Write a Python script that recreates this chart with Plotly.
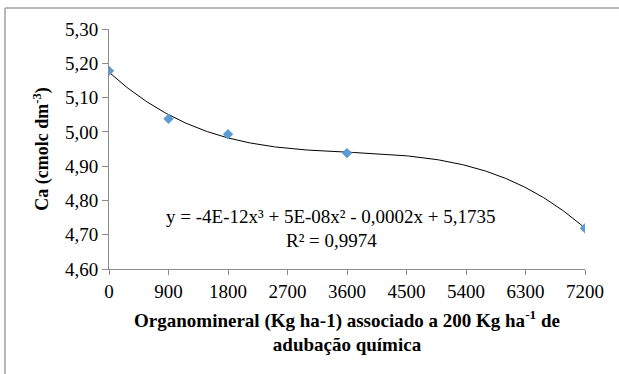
import numpy as np
import plotly.graph_objects as go

doses = [0, 900, 1800, 3600, 7200]
ca_values = [5.178, 5.038, 4.993, 4.938, 4.719]
x_ticks = [0, 900, 1800, 2700, 3600, 4500, 5400, 6300, 7200]
y_ticks = [4.60, 4.70, 4.80, 4.90, 5.00, 5.10, 5.20, 5.30]
equation_text = "y = -4E-12x³ + 5E-08x² - 0,0002x + 5,1735"
r2_text = "R² = 0,9974"

# cubic trendline fitted to the data
coef = np.polyfit(doses, ca_values, 3)
xf = np.linspace(0, 7200, 300)
yf = np.polyval(coef, xf)

W, H = 619, 374
L, R, T, B = 109, 34, 29, 105
pw = W - L - R
ph = H - T - B

font_family = "Liberation Serif"
axis_col = "#8c8c8c"

fig = go.Figure()
fig.add_trace(go.Scatter(x=xf, y=yf, mode="lines",
                         line=dict(color="#000000", width=1), hoverinfo="skip",
                         showlegend=False))
fig.add_trace(go.Scatter(x=doses, y=ca_values, mode="markers",
                         marker=dict(symbol="diamond", size=8, color="#5B9BD5"),
                         showlegend=False))

fig.update_layout(
    width=W, height=H,
    margin=dict(l=L, r=R, t=T, b=B),
    paper_bgcolor="white", plot_bgcolor="white",
    separators=", ",
    font=dict(family=font_family, size=19, color="#000000"),
    xaxis=dict(range=[0, 7200], tickvals=x_ticks, ticktext=[str(v) for v in x_ticks],
               showgrid=False, zeroline=False, showline=True, linecolor=axis_col,
               linewidth=1, ticks="outside", tickcolor=axis_col, ticklen=5,
               tickfont=dict(size=19, family=font_family, color="#000000"), fixedrange=True,
               title=dict(text="<b>Organomineral (Kg ha-1) associado a 200 Kg ha<sup>-1</sup> de<br>adubação química</b>",
                          font=dict(size=19, family=font_family), standoff=12)),
    yaxis=dict(range=[4.60, 5.30], tickvals=y_ticks, tickformat=".2f",
               showgrid=False, zeroline=False, showline=True, linecolor=axis_col,
               linewidth=1, ticks="outside", tickcolor=axis_col, ticklen=6,
               tickfont=dict(size=19, family=font_family, color="#000000"), fixedrange=True,
               title=dict(text="<b>Ca (cmolc dm<sup>-3</sup>)</b>",
                          font=dict(size=18, family=font_family), standoff=11)),
)

def px_x(p):
    return (p - L) / pw

def px_y(p):
    return 1 - (p - T) / ph

fig.add_annotation(x=px_x(331), y=px_y(216), xref="paper", yref="paper",
                   xanchor="center", yanchor="middle",
                   text=equation_text, showarrow=False,
                   font=dict(size=19, family=font_family))
fig.add_annotation(x=px_x(331), y=px_y(240), xref="paper", yref="paper",
                   xanchor="center", yanchor="middle",
                   text=r2_text, showarrow=False,
                   font=dict(size=19, family=font_family))

# outer chart border (top and left visible)
fig.add_shape(type="line", xref="paper", yref="paper",
              x0=px_x(5), x1=px_x(W + 5), y0=px_y(8), y1=px_y(8),
              line=dict(color="#a0a0a0", width=1.5))
fig.add_shape(type="line", xref="paper", yref="paper",
              x0=px_x(5), x1=px_x(5), y0=px_y(8), y1=px_y(H + 5),
              line=dict(color="#a0a0a0", width=1.5))

fig.write_html("out.html", config={"displayModeBar": False},
               post_script="document.body.style.margin='0';document.body.style.overflow='hidden';")
